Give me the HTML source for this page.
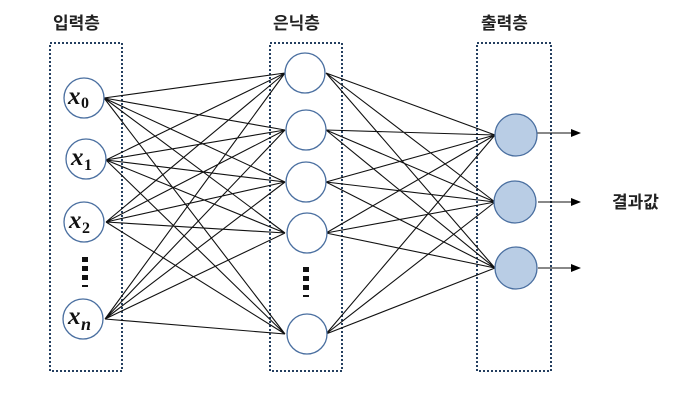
<!DOCTYPE html>
<html><head><meta charset="utf-8"><style>
body{margin:0;background:#fff;width:681px;height:400px;overflow:hidden}
svg{display:block}
.t{font-family:"Liberation Sans","Noto Sans CJK KR",sans-serif;font-size:17px;font-weight:bold;fill:#222}
.v{font-family:"Liberation Serif",serif;font-style:italic;font-weight:bold;font-size:25px;fill:#111}
.s{font-family:"Liberation Serif",serif;font-weight:bold;font-size:16px;fill:#111}
</style></head><body>
<svg width="681" height="400" viewBox="0 0 681 400">
<defs><marker id="a" markerWidth="10" markerHeight="8" refX="9" refY="4" orient="auto" markerUnits="userSpaceOnUse"><path d="M0,0L10,4L0,8z" fill="#000"/></marker></defs>
<text class="t" x="53" y="29">입력층</text>
<text class="t" x="273" y="29">은닉층</text>
<text class="t" x="481" y="29">출력층</text>
<g fill="none" stroke="#243f60" stroke-width="2" stroke-dasharray="2,2">
<rect x="50" y="43" width="72" height="328"/>
<rect x="270" y="43" width="72" height="328"/>
<rect x="477" y="43" width="74" height="328"/>
</g>
<g stroke="#111" stroke-width="1.1">
<path d="M104 98L285 73M104 98L285 130M104 98L285 182M104 98L285 233M104 98L285 334
M106 160L285 73M106 160L285 130M106 160L285 182M106 160L285 233M106 160L285 334
M106 222L285 73M106 222L285 130M106 222L285 182M106 222L285 233M106 222L285 334
M105 319L285 73M105 319L285 130M105 319L285 182M105 319L285 233M105 319L285 334
M326 73L495 135M326 73L495 202M326 73L495 268
M326 130L495 135M326 130L495 202M326 130L495 268
M326 182L495 135M326 182L495 202M326 182L495 268
M326 233L495 135M326 233L495 202M326 233L495 268
M326 334L495 135M326 334L495 202M326 334L495 268"/>
<line x1="537" y1="133" x2="580" y2="133" marker-end="url(#a)"/>
<line x1="538" y1="202" x2="580" y2="202" marker-end="url(#a)"/>
<line x1="538" y1="268" x2="580" y2="268" marker-end="url(#a)"/>
</g>
<g fill="#fff" stroke="#4a6fa0" stroke-width="1.3">
<circle cx="84" cy="98" r="20"/><circle cx="86" cy="159" r="20"/><circle cx="84" cy="222" r="20"/><circle cx="83" cy="319" r="20"/>
<circle cx="305" cy="73" r="20"/><circle cx="306" cy="130" r="20"/><circle cx="306" cy="182" r="20"/><circle cx="307" cy="233" r="20"/><circle cx="307" cy="334" r="20"/>
</g>
<g fill="#b9cde5" stroke="#4a6fa0" stroke-width="1.3">
<circle cx="516" cy="135" r="21"/><circle cx="515" cy="202" r="21"/><circle cx="516" cy="268" r="21"/>
</g>
<text class="v" x="68" y="104">x</text><text class="s" x="81" y="108">0</text>
<text class="v" x="71" y="165">x</text><text class="s" x="84" y="170">1</text>
<text class="v" x="69" y="228">x</text><text class="s" x="82" y="233">2</text>
<text class="v" x="68" y="324">x</text><text class="v" x="81" y="330" style="font-size:18px">n</text>
<g fill="#111">
<rect x="82" y="257" width="6" height="5"/><rect x="82" y="266" width="6" height="5"/><rect x="82" y="275" width="6" height="5"/><rect x="82" y="285" width="6" height="2"/>
<rect x="303" y="267" width="6" height="5"/><rect x="303" y="276" width="6" height="5"/><rect x="303" y="285" width="6" height="5"/><rect x="303" y="295" width="6" height="2"/>
</g>
<text class="t" x="612" y="208">결과값</text>
</svg>
</body></html>
